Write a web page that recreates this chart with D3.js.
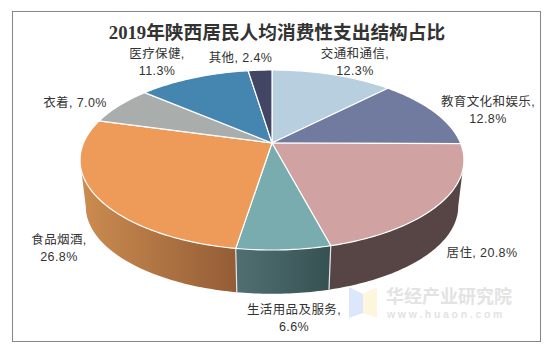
<!DOCTYPE html>
<html>
<head>
<meta charset="utf-8">
<script src="https://cdn.jsdelivr.net/npm/d3@7/dist/d3.min.js"></script>
<style>
  html, body { margin: 0; padding: 0; background: #fff; }
  svg { display: block; }
</style>
</head>
<body>
<div id="chart"></div>
<script>
const categories = ["交通和通信", "教育文化和娱乐", "居住", "生活用品及服务", "食品烟酒", "衣着", "医疗保健", "其他"];
const shares = [12.3, 12.8, 20.8, 6.6, 26.8, 7.0, 11.3, 2.4];
const capColors = ["#b7cfdf", "#717b9f", "#d0a2a2", "#78acae", "#ee9b59", "#a9adab", "#4486b0", "#424564"];
const wallLeft = ["#8a9ca8", "#555c78", "#574545", "#516f72", "#cc8c50", "#7f8281", "#336484", "#32344b"];
const wallRight = ["#8a9ca8", "#555c78", "#574545", "#365152", "#945d36", "#7f8281", "#336484", "#32344b"];
// which labels the original keeps on one line
const oneLine = [false, false, true, false, false, true, false, true];
const labelAnchors = [[355, 58], [488, 106], [482, 257], [294, 314], [59, 244], [75, 107], [157, 58], [240.5, 62]];

const width = 548, height = 354;
const svg = d3.select("#chart").append("svg")
    .attr("width", width)
    .attr("height", height);

// perspective of the tilted disc
const cx = 272, apexY = 143, tilt = 0.189, rx = 188.5, ry = 86.8;
const depth = { y: 47, scale: 0.97 };
// angles where the disc is widest, the wall is only seen between them
const wallFrom = Math.acos(-tilt), wallTo = 2 * Math.PI - wallFrom;

function project(angle, floor) {
    const u = Math.sin(angle), v = Math.cos(angle), w = 1 + tilt * v;
    const s = floor ? depth.scale : 1;
    const dy = floor ? depth.y : 0;
    return [cx + s * rx * u / w, apexY + dy - s * ry * v / w];
}

const pie = d3.pie().sort(null).value(d => d);
const arcs = pie(shares);
const line = d3.line();

function sampleArc(a0, a1, floor) {
    const n = Math.max(2, Math.ceil((a1 - a0) * 60));
    return d3.range(n + 1).map(i => project(a0 + (a1 - a0) * i / n, floor));
}

const walls = arcs
    .map((a, i) => ({ i, a0: Math.max(a.startAngle, wallFrom), a1: Math.min(a.endAngle, wallTo) }))
    .filter(d => d.a1 > d.a0);

const defs = svg.append("defs");
walls.forEach(d => {
    const pts = sampleArc(d.a0, d.a1, false);
    const grad = defs.append("linearGradient")
        .attr("id", "wall" + d.i)
        .attr("gradientUnits", "userSpaceOnUse")
        .attr("x1", d3.min(pts, p => p[0])).attr("x2", d3.max(pts, p => p[0]))
        .attr("y1", 0).attr("y2", 0);
    grad.append("stop").attr("offset", 0).attr("stop-color", wallLeft[d.i]);
    grad.append("stop").attr("offset", 1).attr("stop-color", wallRight[d.i]);
});

// side walls first, the caps go over them
svg.append("g").selectAll("path")
    .data(walls)
    .join("path")
    .attr("d", d => line(sampleArc(d.a0, d.a1, false).concat(sampleArc(d.a0, d.a1, true).reverse())) + "Z")
    .attr("fill", d => `url(#wall${d.i})`);

// white seams between the walls
svg.append("g").selectAll("path")
    .data(arcs.filter(a => a.startAngle > wallFrom && a.startAngle < wallTo))
    .join("path")
    .attr("d", a => line([project(a.startAngle, false), project(a.startAngle, true)]))
    .attr("stroke", "#e6e6e6")
    .attr("stroke-width", 1.2);

svg.append("g").selectAll("path")
    .data(arcs)
    .join("path")
    .attr("d", a => line([[cx, apexY]].concat(sampleArc(a.startAngle, a.endAngle, false))) + "Z")
    .attr("fill", (a, i) => capColors[i])
    .attr("stroke", "#fff")
    .attr("stroke-width", 1.2)
    .attr("stroke-linejoin", "round");

// title
svg.append("text")
    .attr("x", 277)
    .attr("y", 39)
    .attr("text-anchor", "middle")
    .attr("font-family", "'Liberation Serif', 'Noto Sans CJK SC', serif")
    .attr("font-weight", "bold")
    .attr("font-size", "18.7px")
    .attr("fill", "#333")
    .text("2019年陕西居民人均消费性支出结构占比");

// labels
const labels = svg.append("g")
    .attr("font-family", "'Liberation Sans', 'Noto Sans CJK SC', sans-serif")
    .attr("font-size", "12.5px")
    .attr("letter-spacing", "0.4px")
    .attr("fill", "#333")
    .attr("text-anchor", "middle");
categories.forEach((name, i) => {
    const pct = shares[i].toFixed(1) + "%";
    const lines = oneLine[i] ? [`${name}, ${pct}`] : [`${name},`, pct];
    lines.forEach((txt, j) => {
        labels.append("text")
            .attr("x", labelAnchors[i][0])
            .attr("y", labelAnchors[i][1] + j * 16.5)
            .text(txt);
    });
});

// watermark
const wm = svg.append("g");
wm.append("polygon").attr("points", "349,287 363,294 363,313 349,318").attr("fill", "#dbe8fb");
wm.append("polygon").attr("points", "377,287 363,294 363,313 377,318").attr("fill", "#fdf6dc");
wm.append("text")
    .attr("x", 386).attr("y", 303)
    .attr("font-family", "'Noto Sans CJK SC', sans-serif")
    .attr("font-weight", "bold")
    .attr("font-size", "18px")
    .attr("fill", "#e3e3e3")
    .text("华经产业研究院");
wm.append("text")
    .attr("x", 387).attr("y", 318)
    .attr("font-family", "'Liberation Sans', sans-serif")
    .attr("font-weight", "bold")
    .attr("font-size", "10.5px")
    .attr("letter-spacing", "2.7px")
    .attr("fill", "#e3e3e3")
    .text("www.huaon.com");

// chart border
svg.append("rect")
    .attr("x", 12.5).attr("y", 11.5)
    .attr("width", 528).attr("height", 330)
    .attr("fill", "none")
    .attr("stroke", "#868686")
    .attr("stroke-width", 1);
</script>
</body>
</html>
